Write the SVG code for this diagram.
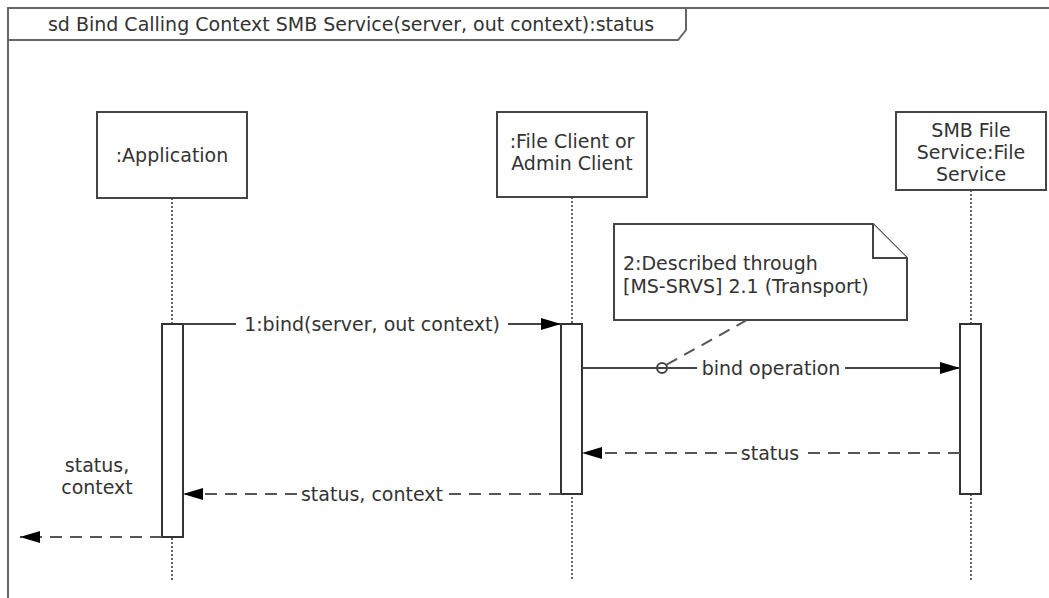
<svg xmlns="http://www.w3.org/2000/svg" width="1049" height="598" viewBox="0 0 1049 598">
<defs>
<marker id="arr" markerWidth="20" markerHeight="12" refX="20" refY="6" orient="auto" markerUnits="userSpaceOnUse">
<path d="M0,0 L20,6 L0,12 Z" fill="#000"/>
</marker>
<style>
text{font-family:"DejaVu Sans","Verdana",sans-serif;font-size:19px;fill:#333}
.box{fill:#fff;stroke:#444;stroke-width:2}
.life{stroke:#666;stroke-width:2;stroke-dasharray:2,2}
.act{fill:#fff;stroke:#333;stroke-width:2}
.msg{stroke:#444;stroke-width:2;fill:none}
.ret{stroke:#555;stroke-width:2;fill:none;stroke-dasharray:12,8}
.frame{stroke:#666;stroke-width:2;fill:none}
</style>
</defs>
<rect width="1049" height="598" fill="#fff"/>
<g id="frame">
<path class="frame" d="M8,598 V8 H1049"/>
<path class="frame" d="M8,8 H686 V30 L678,40 H8" fill="#fff"/>
<text x="351" y="31" text-anchor="middle">sd Bind Calling Context SMB Service(server, out context):status</text>
</g>
<g id="lifelines">
<line class="life" x1="172" y1="198" x2="172" y2="580"/>
<line class="life" x1="572" y1="197" x2="572" y2="580"/>
<line class="life" x1="971" y1="190" x2="971" y2="580"/>
</g>
<g id="application">
<rect class="box" x="97" y="112" width="150" height="86"/>
<text x="172" y="162" text-anchor="middle">:Application</text>
</g>
<g id="fileclient">
<rect class="box" x="497" y="112" width="150" height="85"/>
<text x="572" y="148" text-anchor="middle">:File Client or</text>
<text x="572" y="170" text-anchor="middle">Admin Client</text>
</g>
<g id="smbservice">
<rect class="box" x="896" y="112" width="150" height="78"/>
<text x="971" y="137" text-anchor="middle">SMB File</text>
<text x="971" y="159" text-anchor="middle">Service:File</text>
<text x="971" y="181" text-anchor="middle">Service</text>
</g>
<g id="activations">
<rect class="act" x="162" y="324" width="21" height="213"/>
<rect class="act" x="561" y="324" width="21" height="170"/>
<rect class="act" x="960" y="324" width="21" height="170"/>
</g>
<g id="note">
<path class="box" d="M614,224 H873 L907,258 V320 H614 Z"/>
<path class="box" d="M873,224 V258 H907" fill="none"/>
<text x="623" y="270">2:Described through</text>
<text x="623" y="293">[MS-SRVS] 2.1 (Transport)</text>
</g>
<g id="connectors">
<line class="msg" x1="183" y1="324" x2="236" y2="324"/>
<line class="msg" x1="508" y1="324" x2="561" y2="324" marker-end="url(#arr)"/>
<text x="372" y="331" text-anchor="middle">1:bind(server, out context)</text>
<line class="msg" x1="582" y1="368" x2="697" y2="368"/>
<line class="msg" x1="845" y1="368" x2="960" y2="368" marker-end="url(#arr)"/>
<text x="771" y="375" text-anchor="middle">bind operation</text>
<line class="ret" x1="747" y1="320" x2="666" y2="365" stroke-dasharray="10,6"/>
<circle cx="662" cy="368" r="5" fill="none" stroke="#444" stroke-width="2"/>
<line class="ret" x1="960" y1="453" x2="803" y2="453"/>
<line class="ret" x1="737" y1="453" x2="582" y2="453" marker-end="url(#arr)"/>
<text x="770" y="460" text-anchor="middle">status</text>
<line class="ret" x1="561" y1="494" x2="447" y2="494"/>
<line class="ret" x1="297" y1="494" x2="183" y2="494" marker-end="url(#arr)"/>
<text x="372" y="501" text-anchor="middle">status, context</text>
<line class="ret" x1="162" y1="537" x2="20" y2="537" marker-end="url(#arr)"/>
<text x="97" y="472" text-anchor="middle">status,</text>
<text x="97" y="494" text-anchor="middle">context</text>
</g>
</svg>
